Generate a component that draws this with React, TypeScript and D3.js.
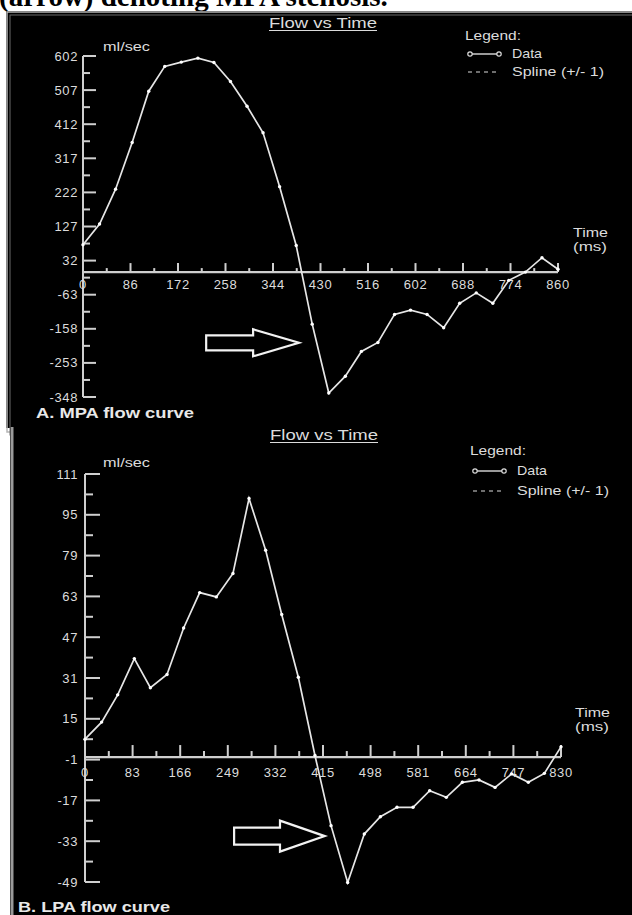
import React from 'react';
import * as d3 from 'd3';

// MPA (top) samples: time in ms, flow in ml/sec
const mpaTime = [0, 30, 59, 89, 119, 148, 178, 208, 237, 267, 297, 326, 356, 386, 415, 445, 475, 504, 534, 564, 593, 623, 653, 682, 712, 742, 771, 801, 831, 860];
const mpaFlow = [76, 134, 231, 361, 504, 573, 585, 596, 584, 531, 462, 388, 238, 74, -145, -337, -290, -221, -196, -118, -106, -118, -155, -87, -58, -87, -23, 0, 40, 8];
const mpaYTicks = [602, 507, 412, 317, 222, 127, 32, -63, -158, -253, -348];
const mpaXTicks = [0, 86, 172, 258, 344, 430, 516, 602, 688, 774, 860];

// LPA (bottom) samples
const lpaTime = [0, 29, 57, 86, 114, 143, 172, 200, 229, 258, 286, 315, 343, 372, 401, 429, 458, 487, 515, 544, 572, 601, 630, 658, 687, 715, 744, 773, 801, 830];
const lpaFlow = [7, 13.7, 24.4, 38.6, 27.2, 32.4, 50.6, 64.5, 62.8, 72, 101.4, 81.1, 55.9, 31.3, 0.6, -26.9, -49.2, -30.2, -23.4, -19.7, -19.7, -13.2, -15.8, -9.9, -9, -11.9, -6.6, -9.9, -6.4, 4];
const lpaYTicks = [111, 95, 79, 63, 47, 31, 15, -1, -17, -33, -49];
const lpaXTicks = [0, 83, 166, 249, 332, 415, 498, 581, 664, 747, 830];

const caption = '(arrow) denoting MPA stenosis.';
const chartTitle = 'Flow vs Time';
const legendItems = ['Data', 'Spline (+/- 1)'];

const FONT = '"Liberation Sans", Arial, Helvetica, sans-serif';
const INK = '#dcdcdc';
const AXIS = '#cfcfcf';

const mids = (ticks) => ticks.slice(1).map((t, i) => (t + ticks[i]) / 2);

const Panel = ({ cfg }) => {
  const { x, y, time, flow, xTicks, yTicks, arrow, label } = cfg;
  const pts = time.map((t, i) => [t, flow[i]]);
  const line = d3.line().x(d => x(d[0])).y(d => y(d[1]));
  const x0 = x.range()[0];
  const x1 = x.range()[1];
  const axisY = y(0);
  const yTop = y(d3.max(yTicks));
  const yBot = y(d3.min(yTicks));

  // hollow arrow annotation, placed in data space
  const ax0 = x(arrow.from), axb = x(arrow.base), ax1 = x(arrow.to), ay = y(arrow.at);
  const arrowPath = `M${ax0},${ay - arrow.shaft} L${axb},${ay - arrow.shaft} L${axb},${ay - arrow.head} L${ax1},${ay} L${axb},${ay + arrow.head} L${axb},${ay + arrow.shaft} L${ax0},${ay + arrow.shaft} Z`;

  return (
    <g fontFamily={FONT} fill={INK}>
      <text x={cfg.titleX} y={cfg.titleY} fontSize={14} textLength={108} lengthAdjust="spacingAndGlyphs">{chartTitle}</text>
      <line x1={cfg.titleX} x2={cfg.titleX + 108} y1={cfg.titleY + 2.5} y2={cfg.titleY + 2.5} stroke={INK} strokeWidth={1.2} />

      <text x={cfg.legX} y={cfg.legY[0]} fontSize={13} textLength={56} lengthAdjust="spacingAndGlyphs">Legend:</text>
      <line x1={cfg.legX + 5} x2={cfg.legX + 34} y1={cfg.legY[1] - 4} y2={cfg.legY[1] - 4} stroke={INK} strokeWidth={1.4} />
      <circle cx={cfg.legX + 5} cy={cfg.legY[1] - 4} r={2.2} fill="#000" stroke={INK} strokeWidth={1.2} />
      <circle cx={cfg.legX + 34} cy={cfg.legY[1] - 4} r={2.2} fill="#000" stroke={INK} strokeWidth={1.2} />
      <text x={cfg.legX + 47} y={cfg.legY[1]} fontSize={13} textLength={30} lengthAdjust="spacingAndGlyphs">{legendItems[0]}</text>
      <line x1={cfg.legX + 3} x2={cfg.legX + 34} y1={cfg.legY[2] - 4} y2={cfg.legY[2] - 4} stroke={INK} strokeWidth={1.2} strokeDasharray="4,4" />
      <text x={cfg.legX + 47} y={cfg.legY[2]} fontSize={13} textLength={92} lengthAdjust="spacingAndGlyphs">{legendItems[1]}</text>

      <text x={103} y={cfg.unitY} fontSize={13} textLength={47} lengthAdjust="spacingAndGlyphs">ml/sec</text>
      <text x={cfg.timeX} y={cfg.timeY} fontSize={13} textLength={35} lengthAdjust="spacingAndGlyphs">Time</text>
      <text x={cfg.timeX} y={cfg.timeY + 14} fontSize={13} textLength={34} lengthAdjust="spacingAndGlyphs">(ms)</text>

      {/* y axis */}
      <line x1={x0} x2={x0} y1={yTop} y2={yBot} stroke={AXIS} strokeWidth={2} />
      {yTicks.map(t => (
        <g key={'y' + t}>
          <line x1={x0} x2={x0 + cfg.yMajor} y1={y(t)} y2={y(t)} stroke={AXIS} strokeWidth={2} />
          <text x={78} y={y(t) + 4.5} fontSize={13} textAnchor="end" letterSpacing={0.6}>{t}</text>
        </g>
      ))}
      {mids(yTicks).map(t => (
        <line key={'ym' + t} x1={x0} x2={x0 + cfg.yMinor} y1={y(t)} y2={y(t)} stroke={AXIS} strokeWidth={2} />
      ))}

      {/* x axis */}
      <line x1={x0} x2={x1} y1={axisY} y2={axisY} stroke={AXIS} strokeWidth={2.2} />
      {xTicks.map(t => (
        <g key={'x' + t}>
          <line x1={x(t)} x2={x(t)} y1={axisY} y2={axisY - cfg.xMajor} stroke={AXIS} strokeWidth={2} />
          <text x={x(t)} y={axisY + cfg.xLabelDy} fontSize={13} textAnchor="middle" letterSpacing={0.6}>{t}</text>
        </g>
      ))}
      {mids(xTicks).map(t => (
        <line key={'xm' + t} x1={x(t)} x2={x(t)} y1={axisY} y2={axisY - cfg.xMinor} stroke={AXIS} strokeWidth={2} />
      ))}

      <path d={line(pts)} fill="none" stroke="#e6e6e6" strokeWidth={1.7} />
      {pts.map((d, i) => (
        <circle key={i} cx={x(d[0])} cy={y(d[1])} r={1.7} fill="#fff" />
      ))}

      <path d={arrowPath} fill="#000" stroke="#f2f2f2" strokeWidth={2.2} strokeLinejoin="miter" />

      <text x={label.x} y={label.y} fontSize={14} fontWeight="bold" fill="#e8e8e8" textLength={label.w} lengthAdjust="spacingAndGlyphs">{label.text}</text>
    </g>
  );
};

const mpaCfg = {
  x: d3.scaleLinear().domain([0, 860]).range([83, 558]),
  y: d3.scaleLinear().domain([-348, 602]).range([397, 56]),
  time: mpaTime, flow: mpaFlow, xTicks: mpaXTicks, yTicks: mpaYTicks,
  titleX: 269, titleY: 28,
  legX: 465, legY: [40, 58, 76],
  unitY: 51, timeX: 573, timeY: 237,
  yMajor: 13, yMinor: 7, xMajor: 9, xMinor: 4, xLabelDy: 17,
  arrow: { from: 223, base: 308, to: 391, at: -197, shaft: 7.5, head: 13.5 },
  label: { text: 'A. MPA flow curve', x: 36, y: 418, w: 158 },
};

const lpaCfg = {
  x: d3.scaleLinear().domain([0, 830]).range([85, 561]),
  y: d3.scaleLinear().domain([-49, 111]).range([882, 474]),
  time: lpaTime, flow: lpaFlow, xTicks: lpaXTicks, yTicks: lpaYTicks,
  titleX: 270, titleY: 440,
  legX: 470, legY: [455, 475, 495],
  unitY: 467, timeX: 575, timeY: 717,
  yMajor: 15, yMinor: 8, xMajor: 12, xMinor: 6, xLabelDy: 20,
  arrow: { from: 260, base: 340, to: 418, at: -31, shaft: 8.5, head: 15.5 },
  label: { text: 'B. LPA flow curve', x: 18, y: 912, w: 152 },
};

export default function App() {
  return (
    <svg width={632} height={915} style={{ position: 'absolute', left: 0, top: 0, background: '#fff' }}>
      <text x={-1} y={6} fontFamily='"Liberation Serif", "Times New Roman", serif' fontWeight="bold" fontSize={29} fill="#000">{caption}</text>

      {/* top panel */}
      <rect x={6} y={11} width={640} height={417} fill="#000" />
      <rect x={7} y={12} width={640} height={420} fill="none" stroke="#b5b5b5" strokeWidth={1.5} />
      <rect x={10} y={15} width={640} height={420} fill="none" stroke="#6a6a6a" strokeWidth={1} />

      {/* bottom panel */}
      <rect x={10} y={427} width={630} height={495} fill="#000" />
      <line x1={12} x2={12} y1={427} y2={915} stroke="#9a9a9a" strokeWidth={3} />

      <Panel cfg={mpaCfg} />
      <Panel cfg={lpaCfg} />
    </svg>
  );
}
